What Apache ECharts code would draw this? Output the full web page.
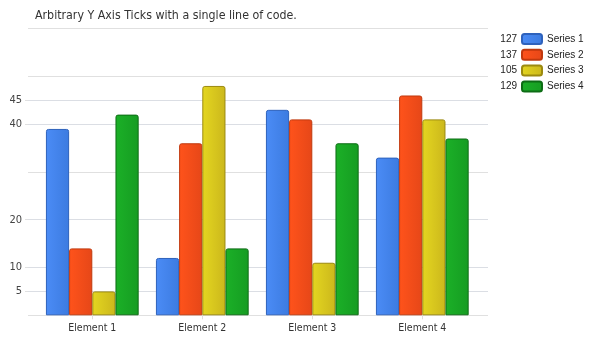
<!DOCTYPE html>
<html><head><meta charset="utf-8">
<script src="https://cdn.jsdelivr.net/npm/echarts@6/dist/echarts.min.js"></script>
<style>html,body{margin:0;padding:0;background:#fff}#c{width:592px;height:341px}</style>
</head><body><div id="c"></div>
<script>
const titleText = 'Arbitrary Y Axis Ticks with a single line of code.';
const categories = ['Element 1', 'Element 2', 'Element 3', 'Element 4'];
const seriesNames = ['Series 1', 'Series 2', 'Series 3', 'Series 4'];
const series1 = [39, 12, 43, 33];
const series2 = [14, 36, 41, 46];
const series3 = [5, 48, 11, 41];
const series4 = [42, 14, 36, 37];
const tickLabels = [5, 10, 20, 40, 45];
const plainGridLines = [0, 30, 50, 60];
const yMin = 0, yMax = 60;

const seriesData = [series1, series2, series3, series4];
const styles = [
  {c1: '#4b8cf6', c2: '#3c7be0', b: '#2e62bc'},
  {c1: '#ff531b', c2: '#e64718', b: '#c0390e'},
  {c1: '#e4d620', c2: '#cbb71c', b: '#9c8a10'},
  {c1: '#1bb027', c2: '#169c22', b: '#0d6c15'}
];
const totals = {};
seriesNames.forEach((n, i) => { totals[n] = seriesData[i].reduce((a, b) => a + b, 0); });

const gridTop = 28.6, gridBottom = 25.7;
const chart = echarts.init(document.getElementById('c'), null, {renderer: 'canvas'});
const font = 'DejaVu Sans Condensed';
chart.setOption({
  animation: false,
  title: {
    text: titleText, left: 35, top: 10, padding: 0,
    textStyle: {fontFamily: font, fontSize: 12.3, fontWeight: 'normal', color: '#333'}
  },
  legend: [{
    orient: 'vertical', left: 521, top: 33, padding: 0,
    itemWidth: 20, itemHeight: 10, itemGap: 3.8,
    icon: 'roundRect',
    data: seriesNames,
    textStyle: {fontFamily: 'Liberation Sans', fontSize: 10, lineHeight: 12, color: '#222'}
  }, {
    orient: 'vertical', left: 494, top: 33, padding: 0,
    itemWidth: 0, itemHeight: 10, itemGap: 3.8,
    icon: 'none',
    data: seriesNames,
    formatter: n => '{a|' + totals[n] + '}',
    textStyle: {fontFamily: 'Liberation Sans', fontSize: 10, lineHeight: 12, color: '#222',
      rich: {a: {width: 18, align: 'right', fontFamily: 'Liberation Sans', fontSize: 10, lineHeight: 12, color: '#222'}}}
  }],
  grid: [
    {left: 28, right: 104, top: gridTop, bottom: gridBottom},
    {left: 37.3, right: 114.7, top: gridTop, bottom: gridBottom}
  ],
  xAxis: [
    {gridIndex: 0, type: 'value', show: false, min: 0, max: 1},
    {gridIndex: 1, type: 'category', data: categories,
      axisLine: {show: false},
      axisTick: {show: true, alignWithLabel: true, length: 4, lineStyle: {color: '#ddd'}},
      axisLabel: {fontFamily: font, fontSize: 10.5, color: '#333', margin: 7}}
  ],
  yAxis: [
    {gridIndex: 0, type: 'value', min: yMin, max: yMax,
      axisLine: {show: false},
      axisTick: {show: true, length: 3, customValues: tickLabels, lineStyle: {color: '#e0e0e0'}},
      axisLabel: {customValues: tickLabels, fontFamily: font, fontSize: 11, color: '#444', margin: 6}},
    {gridIndex: 0, type: 'value', min: yMin, max: yMax,
      axisLine: {show: false},
      axisTick: {show: false, customValues: plainGridLines},
      axisLabel: {show: false},
      splitLine: {show: true, lineStyle: {color: '#e0e0e0'}}},
    {gridIndex: 1, type: 'value', min: yMin, max: yMax, show: false, splitLine: {show: false}}
  ],
  series: seriesNames.map((n, i) => ({
    name: n, type: 'bar', xAxisIndex: 1, yAxisIndex: 2,
    data: seriesData[i],
    barGap: '0%', barCategoryGap: '15.7%',
    itemStyle: {
      color: new echarts.graphic.LinearGradient(0, 0, 1, 0, [
        {offset: 0, color: styles[i].c1}, {offset: 1, color: styles[i].c2}]),
      borderColor: styles[i].b, borderWidth: 1, borderRadius: [2, 2, 0, 0]
    }
  }))
});
</script></body></html>
